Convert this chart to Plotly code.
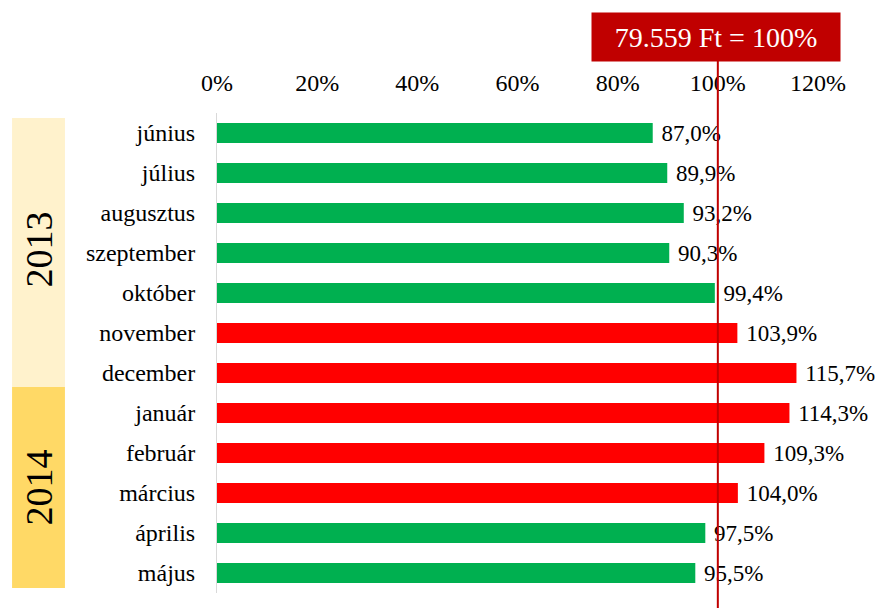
import plotly.graph_objects as go

months = ["június", "július", "augusztus", "szeptember", "október", "november",
          "december", "január", "február", "március", "április", "május"]
values = [87.0, 89.9, 93.2, 90.3, 99.4, 103.9, 115.7, 114.3, 109.3, 104.0, 97.5, 95.5]
years = ["2013", "2014"]
reference_label = "79.559 Ft = 100%"
reference_value = 100
x_ticks = [0, 20, 40, 60, 80, 100, 120]

GREEN = "#00B050"
RED = "#FF0000"
FONT = "Liberation Serif, Times New Roman, serif"

colors = [RED if v > reference_value else GREEN for v in values]
# leading non-breaking space gives the gap between bar end and label
labels = ["\u00a0" + f"{v:.1f}".replace(".", ",") + "%" for v in values]

fig = go.Figure(go.Bar(
    x=values, y=months, orientation="h",
    marker=dict(color=colors, line=dict(width=0)),
    width=0.5,
    text=labels, textposition="outside", constraintext="none",
    textfont=dict(family=FONT, size=23, color="black"),
    cliponaxis=False,
))

# page body has an 8px default margin, so the figure is 8px smaller
fig.update_layout(
    width=877, height=600,
    margin=dict(l=209, r=67, t=105, b=15),
    paper_bgcolor="white", plot_bgcolor="white",
    showlegend=False,
    font=dict(family=FONT, size=24, color="black"),
    xaxis=dict(range=[0, 120], side="top", tickvals=x_ticks,
               ticktext=[f"{t}%" for t in x_ticks],
               showgrid=False, zeroline=False, showline=False,
               ticks="", ticklabelstandoff=16,
               tickfont=dict(family=FONT, size=24, color="black")),
    yaxis=dict(autorange="reversed", type="category",
               showgrid=False, zeroline=False,
               showline=True, linecolor="#D9D9D9", linewidth=1,
               ticks="", ticklabelstandoff=16,
               tickfont=dict(family=FONT, size=24, color="black")),
)

# year bands
fig.add_shape(type="rect", xref="paper", yref="paper",
              x0=-0.341, x1=-0.253, y0=0.429, y1=0.9896,
              fillcolor="#FFF2CC", line=dict(width=0), layer="below")
fig.add_shape(type="rect", xref="paper", yref="paper",
              x0=-0.341, x1=-0.253, y0=0.0104, y1=0.429,
              fillcolor="#FFD966", line=dict(width=0), layer="below")
fig.add_annotation(text=years[0], xref="paper", yref="paper",
                   x=-0.297, y=(593 - 250) / 480, textangle=-90,
                   xanchor="center", yanchor="middle",
                   showarrow=False, font=dict(family=FONT, size=38, color="black"))
fig.add_annotation(text=years[1], xref="paper", yref="paper",
                   x=-0.297, y=(593 - 488) / 480, textangle=-90,
                   xanchor="center", yanchor="middle",
                   showarrow=False, font=dict(family=FONT, size=38, color="black"))

# reference line
fig.add_shape(type="line", xref="x", yref="paper",
              x0=reference_value, x1=reference_value, y0=-0.04, y1=1.11,
              line=dict(color="#C00000", width=2), layer="above")
fig.add_annotation(text=reference_label, xref="x", yref="paper",
                   x=reference_value - 0.4, y=1 + (113 - 37) / 480,
                   xanchor="center", yanchor="middle",
                   showarrow=False, bgcolor="#C00000",
                   width=246, height=46, align="center", valign="middle",
                   font=dict(family=FONT, size=28, color="white"))

fig.write_html("out.html")
